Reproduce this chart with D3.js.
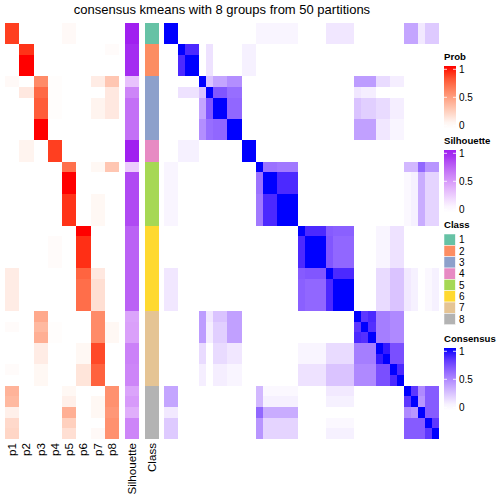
<!DOCTYPE html>
<html><head><meta charset="utf-8">
<script src="https://cdn.jsdelivr.net/npm/d3@7"></script>
<style>body{margin:0;background:#fff}svg{display:block;font-family:"Liberation Sans",Arial,sans-serif}</style>
</head><body><svg id="c" width="504" height="504"></svg>
<script>
const titleText = "consensus kmeans with 8 groups from 50 partitions";
const probNames = ["p1","p2","p3","p4","p5","p6","p7","p8"];
const annoNames = ["Silhouette","Class"];
const classLevels = ["1","2","3","4","5","6","7","8"];
const classColors = ["#66c2a5","#fc8d62","#8da0cb","#e78ac3","#a6d854","#ffd92f","#e5c494","#b3b3b3"];
const legendTicks = [1, 0.5, 0];

const sampleClass = [1,1,2,2,2,3,3,3,3,3,3,4,4,5,5,5,5,5,5,6,6,6,6,6,6,6,6,7,7,7,7,7,7,7,8,8,8,8,8];
const silhouette = [1,1,.97,.97,.97,.3,.6,.7,.7,.7,.7,1,1,.25,.87,.87,.87,.87,.87,.77,.77,.77,.77,.77,.77,.77,.77,.45,.47,.47,.62,.62,.6,.6,.45,.5,.4,.6,.6];

const prob = [
[.9,0,0,0,.03,0,0,0],
[.9,0,0,0,.03,0,0,0],
[0,.93,0,0,0,0,0,.02],
[0,1,0,0,0,0,0,0],
[0,1,0,0,0,0,0,0],
[.03,0,.6,.01,0,0,.1,.3],
[0,.12,.75,.01,0,0,0,.12],
[0,0,.8,.01,0,0,.06,.12],
[0,0,.8,.01,0,0,.06,.12],
[0,0,1,0,0,0,0,0],
[0,0,1,0,0,0,0,0],
[0,.06,0,.9,0,0,0,0],
[0,.06,0,.9,0,0,0,0],
[0,0,0,0,.72,0,.04,.3],
[0,0,0,0,1,0,0,0],
[0,0,0,0,1,0,0,0],
[0,0,0,0,.93,0,.04,0],
[0,0,0,0,.93,0,.04,0],
[0,0,0,0,.93,0,.04,0],
[0,0,0,0,0,1,0,0],
[0,0,0,.02,0,.94,0,0],
[0,0,0,.02,0,.94,0,0],
[0,0,0,.02,0,.94,0,0],
[.1,0,0,0,0,.77,.12,0],
[.1,0,0,0,0,.73,.17,0],
[.1,0,0,0,0,.73,.17,0],
[.1,0,0,0,0,.73,.17,0],
[0,0,.45,0,0,0,.6,0],
[.02,0,.37,.01,0,0,.6,.04],
[0,0,.42,.01,0,0,.6,.04],
[0,0,.1,0,0,.04,.87,0],
[0,0,.1,0,0,.04,.87,0],
[.02,0,.04,0,0,.14,.78,0],
[0,0,.04,0,0,.14,.78,0],
[.4,0,0,0,.04,0,0,.57],
[.37,0,0,0,.08,0,.04,.57],
[.08,0,0,0,.42,0,.04,.54],
[.2,0,0,0,.25,0,0,.57],
[.22,0,0,0,.17,0,.03,.57]
];

const consensus = [
[1,1, 0,0,0, 0,0,0,0,0,0, 0,0, .04,.04,.04,.04,.04,.04, 0,0,0,0,.1,.1,.1,.1, 0,0,0,0,0,0,0, .38,.38,.09,.22,.22],
[1,1, 0,0,0, 0,0,0,0,0,0, 0,0, .04,.04,.04,.04,.04,.04, 0,0,0,0,.1,.1,.1,.1, 0,0,0,0,0,0,0, .38,.38,.09,.22,.22],
[0,0, 1,.9,.9, 0,.12,0,0,0,0, .06,.06, 0,0,0,0,0,0, 0,0,0,0,0,0,0,0, 0,0,0,0,0,0,0, 0,0,0,0,0],
[0,0, .9,1,1, 0,.12,0,0,0,0, .06,.06, 0,0,0,0,0,0, 0,0,0,0,0,0,0,0, 0,0,0,0,0,0,0, 0,0,0,0,0],
[0,0, .9,1,1, 0,.12,0,0,0,0, .06,.06, 0,0,0,0,0,0, 0,0,0,0,0,0,0,0, 0,0,0,0,0,0,0, 0,0,0,0,0],
[0,0, 0,0,0, 1,.25,.38,.38,.48,.48, 0,0, 0,0,0,0,0,0, 0,0,0,0,0,0,0,0, .42,.42,.42,.15,.15,.07,.07, 0,0,0,0,0],
[0,0, .12,.12,.12, .25,1,.72,.72,.62,.62, 0,0, 0,0,0,0,0,0, 0,0,0,0,0,0,0,0, .1,.07,.07,0,0,0,0, 0,0,0,0,0],
[0,0, 0,0,0, .38,.72,1,1,.65,.65, 0,0, 0,0,0,0,0,0, 0,0,0,0,0,0,0,0, .25,.2,.2,.15,.15,.07,.07, 0,0,0,0,0],
[0,0, 0,0,0, .38,.72,1,1,.65,.65, 0,0, 0,0,0,0,0,0, 0,0,0,0,0,0,0,0, .25,.2,.2,.15,.15,.07,.07, 0,0,0,0,0],
[0,0, 0,0,0, .48,.62,.65,.65,1,1, 0,0, 0,0,0,0,0,0, 0,0,0,0,0,0,0,0, .4,.4,.4,.1,.1,.04,.04, 0,0,0,0,0],
[0,0, 0,0,0, .48,.62,.65,.65,1,1, 0,0, 0,0,0,0,0,0, 0,0,0,0,0,0,0,0, .4,.4,.4,.1,.1,.04,.04, 0,0,0,0,0],
[0,0, .06,.06,.06, 0,0,0,0,0,0, 1,1, 0,0,0,0,0,0, 0,0,0,0,0,0,0,0, 0,0,0,0,0,0,0, 0,0,0,0,0],
[0,0, .06,.06,.06, 0,0,0,0,0,0, 1,1, 0,0,0,0,0,0, 0,0,0,0,0,0,0,0, 0,0,0,0,0,0,0, 0,0,0,0,0],
[.04,.04, 0,0,0, 0,0,0,0,0,0, 0,0, 1,.6,.6,.57,.57,.57, 0,0,0,0,0,0,0,0, 0,0,0,0,0,0,0, .3,.3,.65,.45,.45],
[.04,.04, 0,0,0, 0,0,0,0,0,0, 0,0, .6,1,1,.9,.9,.9, 0,0,0,0,0,0,0,0, 0,0,0,0,0,0,0, .03,.06,.35,.18,.18],
[.04,.04, 0,0,0, 0,0,0,0,0,0, 0,0, .6,1,1,.9,.9,.9, 0,0,0,0,0,0,0,0, 0,0,0,0,0,0,0, .03,.06,.35,.18,.18],
[.04,.04, 0,0,0, 0,0,0,0,0,0, 0,0, .57,.9,.9,1,1,1, 0,0,0,0,0,0,0,0, 0,0,0,0,0,0,0, .03,.06,.35,.18,.18],
[.04,.04, 0,0,0, 0,0,0,0,0,0, 0,0, .57,.9,.9,1,1,1, 0,0,0,0,0,0,0,0, 0,0,0,0,0,0,0, .03,.06,.35,.18,.18],
[.04,.04, 0,0,0, 0,0,0,0,0,0, 0,0, .57,.9,.9,1,1,1, 0,0,0,0,0,0,0,0, 0,0,0,0,0,0,0, .03,.06,.35,.18,.18],
[0,0, 0,0,0, 0,0,0,0,0,0, 0,0, 0,0,0,0,0,0, 1,.9,.9,.9,.7,.68,.68,.68, 0,0,0,.04,.04,.12,.12, 0,0,0,0,0],
[0,0, 0,0,0, 0,0,0,0,0,0, 0,0, 0,0,0,0,0,0, .9,1,1,1,.72,.65,.65,.65, 0,0,0,.04,.04,.12,.12, 0,0,0,0,0],
[0,0, 0,0,0, 0,0,0,0,0,0, 0,0, 0,0,0,0,0,0, .9,1,1,1,.72,.65,.65,.65, 0,0,0,.04,.04,.12,.12, 0,0,0,0,0],
[0,0, 0,0,0, 0,0,0,0,0,0, 0,0, 0,0,0,0,0,0, .9,1,1,1,.72,.65,.65,.65, 0,0,0,.04,.04,.12,.12, 0,0,0,0,0],
[.1,.1, 0,0,0, 0,0,0,0,0,0, 0,0, 0,0,0,0,0,0, .7,.72,.72,.72,1,.9,.9,.9, 0,0,0,.15,.15,.25,.25, .09,.06,0,.03,.06],
[.1,.1, 0,0,0, 0,0,0,0,0,0, 0,0, 0,0,0,0,0,0, .68,.65,.65,.65,.9,1,1,1, 0,0,0,.15,.15,.25,.25, .09,.06,0,.03,.06],
[.1,.1, 0,0,0, 0,0,0,0,0,0, 0,0, 0,0,0,0,0,0, .68,.65,.65,.65,.9,1,1,1, 0,0,0,.15,.15,.25,.25, .09,.06,0,.03,.06],
[.1,.1, 0,0,0, 0,0,0,0,0,0, 0,0, 0,0,0,0,0,0, .68,.65,.65,.65,.9,1,1,1, 0,0,0,.15,.15,.25,.25, .09,.06,0,.03,.06],
[0,0, 0,0,0, .42,.1,.25,.25,.4,.4, 0,0, 0,0,0,0,0,0, 0,0,0,0,0,0,0,0, 1,.85,.9,.55,.55,.5,.5, 0,0,0,0,0],
[0,0, 0,0,0, .42,.07,.2,.2,.4,.4, 0,0, 0,0,0,0,0,0, 0,0,0,0,0,0,0,0, .85,1,.88,.55,.55,.5,.5, 0,0,0,0,0],
[0,0, 0,0,0, .42,.07,.2,.2,.4,.4, 0,0, 0,0,0,0,0,0, 0,0,0,0,0,0,0,0, .9,.88,1,.55,.55,.5,.5, 0,0,0,0,0],
[0,0, 0,0,0, .15,0,.15,.15,.1,.1, 0,0, 0,0,0,0,0,0, .04,.04,.04,.04,.15,.15,.15,.15, .55,.55,.55,1,.95,.75,.75, 0,0,0,0,0],
[0,0, 0,0,0, .15,0,.15,.15,.1,.1, 0,0, 0,0,0,0,0,0, .04,.04,.04,.04,.15,.15,.15,.15, .55,.55,.55,.95,1,.75,.75, 0,0,0,0,0],
[0,0, 0,0,0, .07,0,.07,.07,.04,.04, 0,0, 0,0,0,0,0,0, .12,.12,.12,.12,.25,.25,.25,.25, .5,.5,.5,.75,.75,1,.9, 0,0,0,0,0],
[0,0, 0,0,0, .07,0,.07,.07,.04,.04, 0,0, 0,0,0,0,0,0, .12,.12,.12,.12,.25,.25,.25,.25, .5,.5,.5,.75,.75,.9,1, 0,0,0,0,0],
[.38,.38, 0,0,0, 0,0,0,0,0,0, 0,0, .3,.03,.03,.03,.03,.03, 0,0,0,0,.09,.09,.09,.09, 0,0,0,0,0,0,0, 1,.85,.5,.7,.7],
[.38,.38, 0,0,0, 0,0,0,0,0,0, 0,0, .3,.06,.06,.06,.06,.06, 0,0,0,0,.06,.06,.06,.06, 0,0,0,0,0,0,0, .85,1,.45,.7,.7],
[.09,.09, 0,0,0, 0,0,0,0,0,0, 0,0, .65,.35,.35,.35,.35,.35, 0,0,0,0,0,0,0,0, 0,0,0,0,0,0,0, .5,.45,1,.7,.7],
[.22,.22, 0,0,0, 0,0,0,0,0,0, 0,0, .45,.18,.18,.18,.18,.18, 0,0,0,0,.03,.03,.03,.03, 0,0,0,0,0,0,0, .7,.7,.7,1,.85],
[.22,.22, 0,0,0, 0,0,0,0,0,0, 0,0, .45,.18,.18,.18,.18,.18, 0,0,0,0,.06,.06,.06,.06, 0,0,0,0,0,0,0, .7,.7,.7,.85,1]
];

const svg = d3.select("#c");
const n = sampleClass.length;
const bodyTop = 23, bodyBottom = 439;

const y = d3.scaleBand().domain(d3.range(n)).range([bodyTop, bodyBottom]);
const xProb = d3.scaleBand().domain(probNames).range([5, 119]);
const xAnno = d3.scaleBand().domain(annoNames).range([125, 159]).paddingInner(0.3);
const xCons = d3.scaleBand().domain(d3.range(n)).range([164, 439]);

const colProb = d3.scaleLinear().domain([0,1]).range(["#ffffff","#ff0000"]).interpolate(d3.interpolateLab);
const colSil = d3.scaleLinear().domain([0,1]).range(["#ffffff","#a020f0"]).interpolate(d3.interpolateLab);
const colCons = d3.scaleLinear().domain([0,1]).range(["#ffffff","#0000ff"]).interpolate(d3.interpolateLab);
const colClass = d3.scaleOrdinal().domain(classLevels).range(classColors);

const cells = svg.append("g").attr("shape-rendering","crispEdges");

prob.forEach((row, i) => {
  cells.selectAll(null).data(row).enter().append("rect")
    .attr("x", (d, j) => xProb(probNames[j]))
    .attr("y", y(i))
    .attr("width", xProb.bandwidth())
    .attr("height", y.bandwidth())
    .attr("fill", d => colProb(d));
});
cells.selectAll(null).data(silhouette).enter().append("rect")
  .attr("x", xAnno("Silhouette")).attr("y", (d, i) => y(i))
  .attr("width", xAnno.bandwidth()).attr("height", y.bandwidth())
  .attr("fill", d => colSil(d));
cells.selectAll(null).data(sampleClass).enter().append("rect")
  .attr("x", xAnno("Class")).attr("y", (d, i) => y(i))
  .attr("width", xAnno.bandwidth()).attr("height", y.bandwidth())
  .attr("fill", d => colClass(String(d)));
consensus.forEach((row, i) => {
  cells.selectAll(null).data(row).enter().append("rect")
    .attr("x", (d, j) => xCons(j))
    .attr("y", y(i))
    .attr("width", xCons.bandwidth())
    .attr("height", y.bandwidth())
    .attr("fill", d => colCons(d));
});

svg.append("text").attr("x", 222).attr("y", 13.5).attr("text-anchor","middle")
  .attr("font-size", 13).attr("fill","#000").text(titleText);

const labs = probNames.map(p => ({t: p, x: xProb(p) + xProb.bandwidth()/2}))
  .concat(annoNames.map(a => ({t: a, x: xAnno(a) + xAnno.bandwidth()/2})));
svg.selectAll(null).data(labs).enter().append("text")
  .attr("transform", d => `translate(${d.x},443) rotate(-90)`)
  .attr("text-anchor","end").attr("dy","0.35em")
  .attr("font-size", 11.6).attr("fill","#000").text(d => d.t);

const lx = 444, lw = 12;
const defs = svg.append("defs");
function contLegend(id, baseline, title, scale) {
  svg.append("text").attr("x", lx).attr("y", baseline).attr("font-size", 9.6)
    .attr("font-weight","bold").attr("fill","#000").text(title);
  const barTop = baseline + 6, barH = 62.6;
  const ly = d3.scaleLinear().domain([1, 0]).range([barTop + 3.3, barTop + barH - 3.3]);
  const g = defs.append("linearGradient").attr("id", id).attr("x1",0).attr("y1",0).attr("x2",0).attr("y2",1);
  d3.range(0, 1.0001, 0.1).forEach(t => {
    const v = ly.invert(barTop + t * barH);
    g.append("stop").attr("offset", t).attr("stop-color", scale(Math.max(0, Math.min(1, v))));
  });
  svg.append("rect").attr("x", lx).attr("y", barTop).attr("width", lw).attr("height", barH)
    .attr("fill", `url(#${id})`);
  legendTicks.forEach(t => {
    const yy = ly(t);
    svg.append("line").attr("x1", lx).attr("x2", lx + 3).attr("y1", yy).attr("y2", yy).attr("stroke","#fff").attr("stroke-width",0.8);
    svg.append("line").attr("x1", lx + lw - 3).attr("x2", lx + lw).attr("y1", yy).attr("y2", yy).attr("stroke","#fff").attr("stroke-width",0.8);
    svg.append("text").attr("x", lx + lw + 3).attr("y", yy).attr("dy","0.35em")
      .attr("font-size", 10).attr("fill","#000").text(String(t));
  });
}
contLegend("gProb", 60, "Prob", colProb);
contLegend("gSil", 144, "Silhouette", colSil);

svg.append("text").attr("x", lx).attr("y", 228).attr("font-size", 9.6)
  .attr("font-weight","bold").attr("fill","#000").text("Class");
const ly2 = d3.scaleBand().domain(classLevels).range([234, 234 + 8 * 11.34]);
svg.selectAll(null).data(classLevels).enter().append("rect")
  .attr("x", lx).attr("y", d => ly2(d)).attr("width", 11.34).attr("height", ly2.bandwidth())
  .attr("fill", d => colClass(d)).attr("stroke","#fff").attr("stroke-width",0.5);
svg.selectAll(null).data(classLevels).enter().append("text")
  .attr("x", lx + lw + 3).attr("y", d => ly2(d) + ly2.bandwidth()/2).attr("dy","0.35em")
  .attr("font-size", 10).attr("fill","#000").text(d => d);

contLegend("gCons", 342, "Consensus", colCons);
</script></body></html>
